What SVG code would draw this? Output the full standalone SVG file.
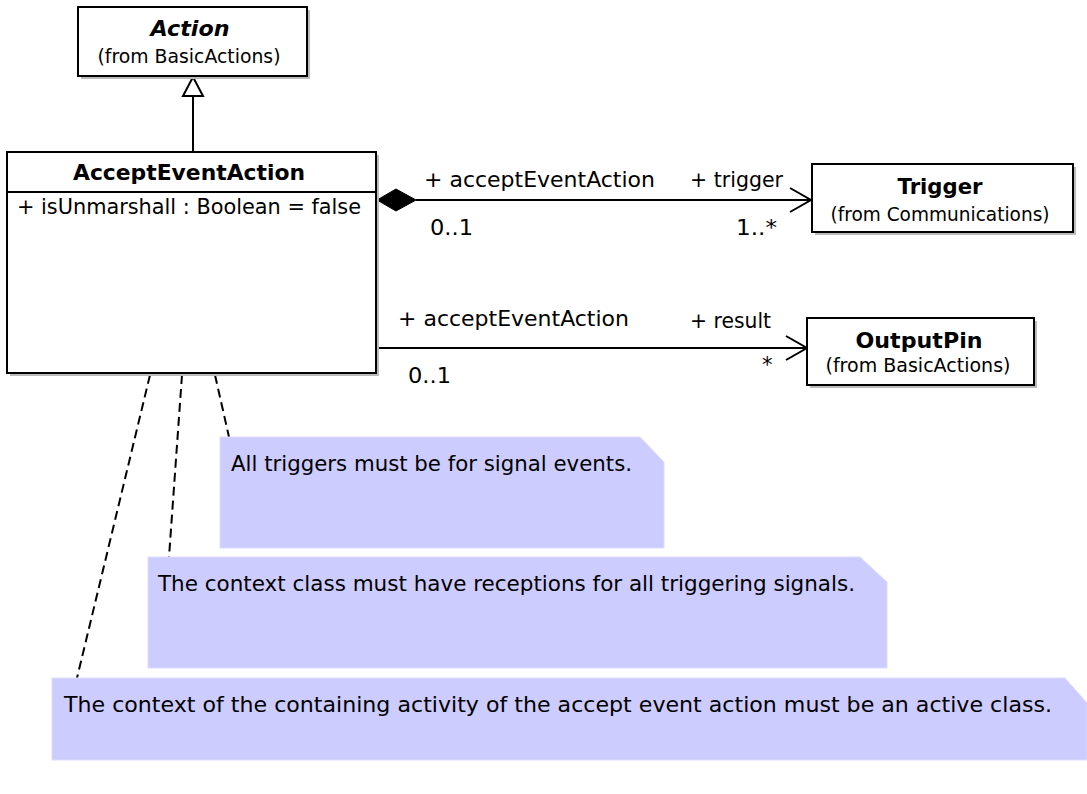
<svg xmlns="http://www.w3.org/2000/svg" width="1087" height="794" viewBox="0 0 1087 794">
<style>
text{font-family:"DejaVu Sans","Liberation Sans",sans-serif;fill:#000}
.box{fill:#fff;stroke:#000;stroke-width:2}
.shadow{fill:#bbb}
.ttl{font-weight:bold;font-size:22px;text-anchor:middle}
.sub{font-size:20px;text-anchor:middle}
.lbl{font-size:21px}
.note{fill:#ccccff;stroke:#dcdcff;stroke-width:1}
.ntxt{font-size:22px}
.ln{stroke:#000;stroke-width:2;fill:none}
.dash{stroke:#000;stroke-width:2;fill:none;stroke-dasharray:9 5}
</style>
<g id="connectors">
  <line class="ln" x1="193" y1="96" x2="193" y2="152"/>
  <polygon points="193,77 203,96 183,96" fill="#fff" stroke="#000" stroke-width="2"/>
  <line class="ln" x1="416" y1="200" x2="811" y2="200"/>
  <polygon points="377,200 396,189 416,200 396,211" fill="#000" stroke="#000" stroke-width="1"/>
  <polyline class="ln" points="790,188 811,200 790,212"/>
  <line class="ln" x1="376" y1="348" x2="807" y2="348"/>
  <polyline class="ln" points="786,336 807,348 786,360"/>
  <line class="dash" x1="215" y1="375" x2="229" y2="437"/>
  <line class="dash" x1="182" y1="375" x2="169" y2="557"/>
  <line class="dash" x1="150" y1="375" x2="77" y2="678"/>
  <text class="lbl" x="424" y="187" textLength="231" lengthAdjust="spacingAndGlyphs">+ acceptEventAction</text>
  <text class="lbl" x="430" y="235" textLength="43" lengthAdjust="spacingAndGlyphs">0..1</text>
  <text class="lbl" x="690" y="187" textLength="93" lengthAdjust="spacingAndGlyphs">+ trigger</text>
  <text class="lbl" x="736" y="235" textLength="41" lengthAdjust="spacingAndGlyphs">1..*</text>
  <text class="lbl" x="398" y="326" textLength="231" lengthAdjust="spacingAndGlyphs">+ acceptEventAction</text>
  <text class="lbl" x="408" y="383" textLength="43" lengthAdjust="spacingAndGlyphs">0..1</text>
  <text class="lbl" x="690" y="328" textLength="81" lengthAdjust="spacingAndGlyphs">+ result</text>
  <text class="lbl" x="762" y="372">*</text>
</g>
<g id="Action">
  <rect class="shadow" x="81" y="10" width="229" height="69"/>
  <rect class="box" x="78" y="7" width="229" height="69"/>
  <text class="ttl" x="190" y="36" font-style="italic" textLength="79" lengthAdjust="spacingAndGlyphs">Action</text>
  <text class="sub" x="189" y="63" textLength="183" lengthAdjust="spacingAndGlyphs">(from BasicActions)</text>
</g>
<g id="AcceptEventAction">
  <rect class="shadow" x="10" y="155" width="369" height="221"/>
  <rect class="box" x="7" y="152" width="369" height="221"/>
  <line class="ln" x1="7" y1="192" x2="376" y2="192"/>
  <text class="ttl" x="189" y="180" textLength="232" lengthAdjust="spacingAndGlyphs">AcceptEventAction</text>
  <text class="lbl" x="17" y="214" textLength="344" lengthAdjust="spacingAndGlyphs">+ isUnmarshall : Boolean = false</text>
</g>
<g id="Trigger">
  <rect class="shadow" x="815" y="167" width="261" height="68"/>
  <rect class="box" x="812" y="164" width="261" height="68"/>
  <text class="ttl" x="940" y="194" textLength="85" lengthAdjust="spacingAndGlyphs">Trigger</text>
  <text class="sub" x="940" y="221" textLength="219" lengthAdjust="spacingAndGlyphs">(from Communications)</text>
</g>
<g id="OutputPin">
  <rect class="shadow" x="810" y="321" width="227" height="67"/>
  <rect class="box" x="807" y="318" width="227" height="67"/>
  <text class="ttl" x="919" y="348" textLength="127" lengthAdjust="spacingAndGlyphs">OutputPin</text>
  <text class="sub" x="918" y="372" textLength="185" lengthAdjust="spacingAndGlyphs">(from BasicActions)</text>
</g>
<g id="note1">
  <polygon class="note" points="220,437 640,437 664,462 664,548 220,548"/>
  <text class="ntxt" x="231" y="471" textLength="401" lengthAdjust="spacingAndGlyphs">All triggers must be for signal events.</text>
</g>
<g id="note2">
  <polygon class="note" points="148,557 860,557 887,582 887,668 148,668"/>
  <text class="ntxt" x="158" y="591" textLength="697" lengthAdjust="spacingAndGlyphs">The context class must have receptions for all triggering signals.</text>
</g>
<g id="note3">
  <polygon class="note" points="52,678 1065,678 1087,703 1087,760 52,760"/>
  <text class="ntxt" x="64" y="712" textLength="988" lengthAdjust="spacingAndGlyphs">The context of the containing activity of the accept event action must be an active class.</text>
</g>
</svg>
